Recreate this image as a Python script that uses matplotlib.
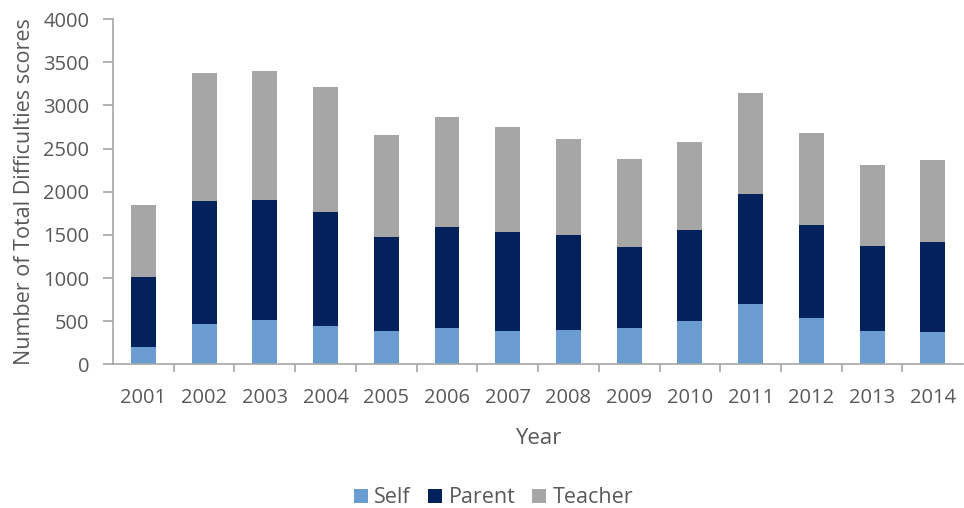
import matplotlib
matplotlib.use("Agg")
import matplotlib.pyplot as plt
import numpy as np
from matplotlib.ticker import FixedLocator, NullFormatter

plt.rcParams['font.family'] = ['Open Sans', 'DejaVu Sans']

years = ['2001', '2002', '2003', '2004', '2005', '2006', '2007',
         '2008', '2009', '2010', '2011', '2012', '2013', '2014']
self_scores = [200, 465, 520, 450, 390, 420, 390, 405, 420, 505, 695, 535, 390, 375]
parent_scores = [810, 1430, 1390, 1315, 1085, 1170, 1140, 1100, 940, 1055, 1275, 1085, 985, 1040]
teacher_scores = [840, 1485, 1485, 1450, 1180, 1280, 1225, 1105, 1015, 1015, 1175, 1060, 935, 955]

series_names = ['Self', 'Parent', 'Teacher']
series_colors = ['#6a9bd1', '#03215b', '#a6a6a6']
text_color = '#595959'
axis_color = '#a6a6a6'

fig = plt.figure(figsize=(9.64, 5.08), dpi=100)
ax = fig.add_axes([0.1172, 0.2825, 0.882, 0.680])

x = np.arange(len(years))
bottom = np.zeros(len(years))
for name, vals, col in zip(series_names, [self_scores, parent_scores, teacher_scores], series_colors):
    ax.bar(x, vals, width=0.41, bottom=bottom, color=col, label=name, zorder=2)
    bottom += np.array(vals)

ax.set_xlim(-0.5, len(years) - 0.5)
ax.set_ylim(0, 4000)
ax.set_yticks(np.arange(0, 4001, 500))

ax.set_xticks(x)
ax.set_xticklabels(years)
ax.xaxis.set_minor_locator(FixedLocator(np.arange(0.5, len(years) - 0.5, 1)))
ax.xaxis.set_minor_formatter(NullFormatter())
ax.tick_params(axis='x', which='major', length=0, pad=17, labelsize=14.5, labelcolor=text_color)
ax.tick_params(axis='x', which='minor', length=6, width=1.2, color=axis_color)
ax.tick_params(axis='y', length=7, width=1.2, color=axis_color, pad=10, labelsize=14.5, labelcolor=text_color)

for side in ['top', 'right']:
    ax.spines[side].set_visible(False)
for side in ['left', 'bottom']:
    ax.spines[side].set_color(axis_color)
    ax.spines[side].set_linewidth(1.2)

ax.set_ylabel('Number of Total Difficulties scores', fontsize=15.5, color=text_color, labelpad=6)
ax.set_xlabel('Year', fontsize=16, color=text_color, labelpad=14)

leg = fig.legend(loc='center', bbox_to_anchor=(0.512, 0.02), ncol=3, frameon=False,
                 fontsize=15.5, handlelength=0.65, handleheight=0.65, handletextpad=0.3,
                 columnspacing=0.8, labelcolor=text_color)

fig.savefig('out.png', dpi=100)
